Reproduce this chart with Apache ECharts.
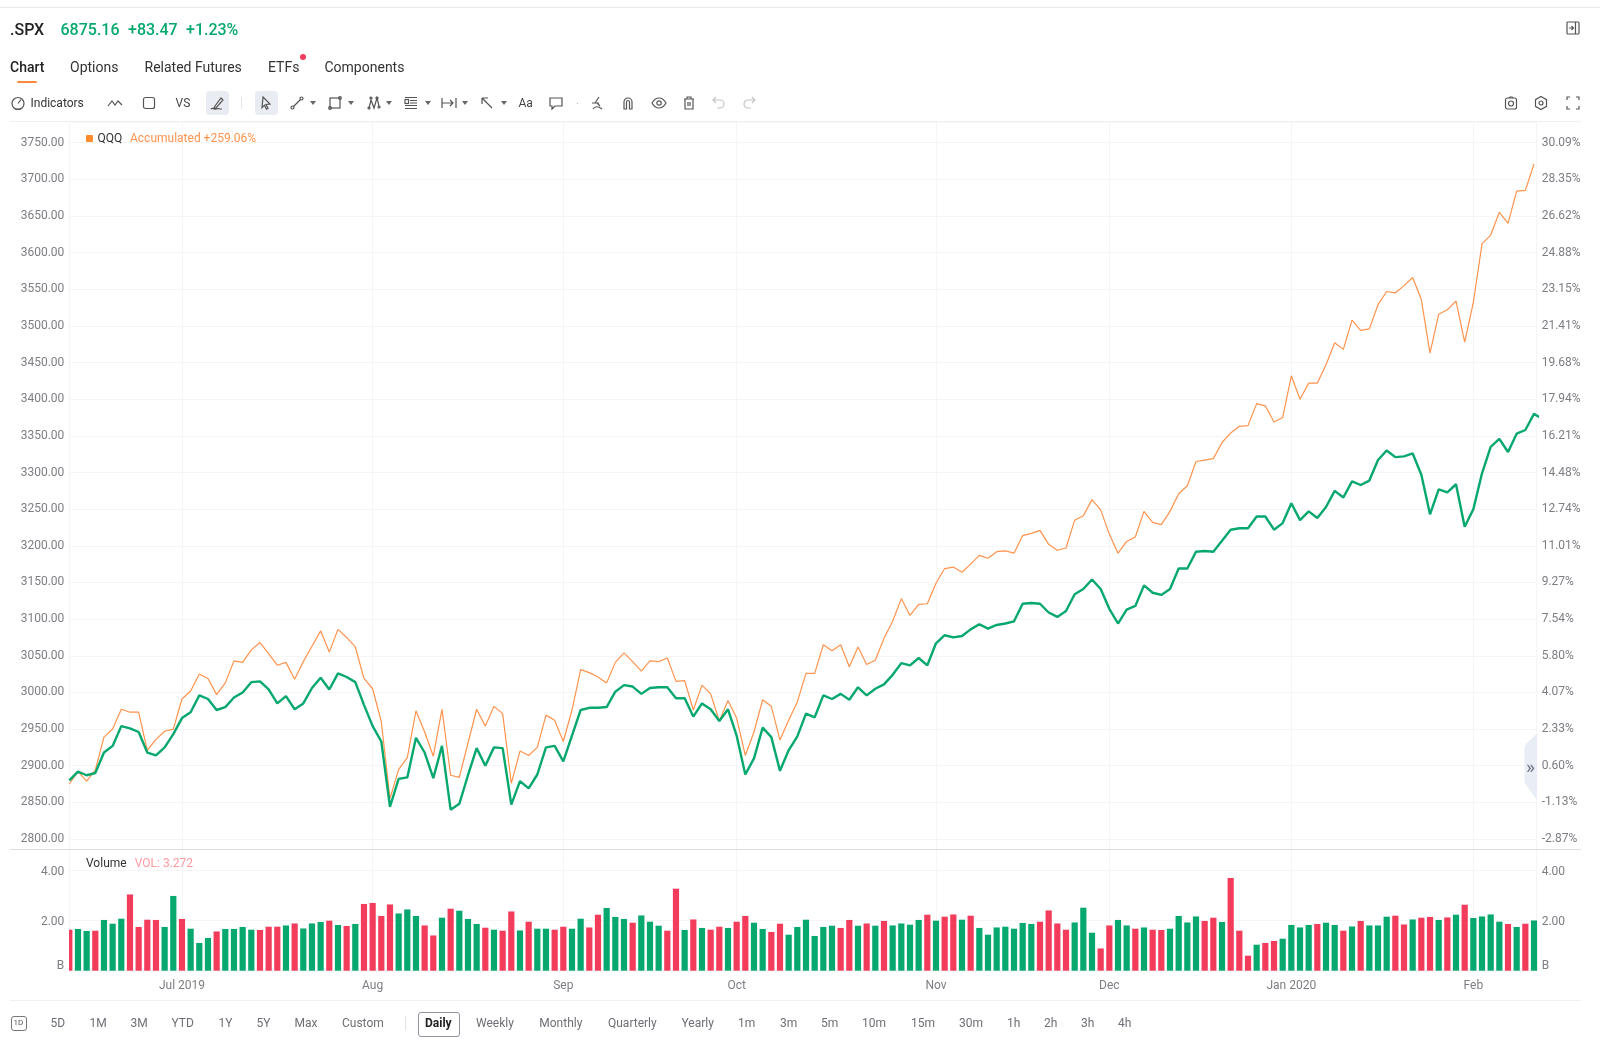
<!DOCTYPE html>
<html>
<head>
<meta charset="utf-8">
<title>.SPX</title>
<script src="https://cdn.jsdelivr.net/npm/echarts@6/dist/echarts.min.js"></script>
<style>
html, body { margin: 0; padding: 0; background: #fff; }
body { width: 1600px; height: 1042px; position: relative; overflow: hidden; font-family: Roboto, sans-serif; color: #333; }
#chart { position: absolute; left: 0; top: 0; width: 1600px; height: 1042px; }
.t { position: absolute; white-space: nowrap; transform: translateY(-50%); line-height: 1; }
.ln { position: absolute; height: 1px; }
.box { position: absolute; border-radius: 4px; }
.ic { position: absolute; width: 16px; height: 16px; transform: translate(-50%, -50%); }
.ic path, .ic rect, .ic circle { fill: none; stroke: #555; stroke-width: 1.2; }
.ic.off path { stroke: #c4c4c8; }
.dd { position: absolute; width: 0; height: 0; border-left: 3px solid transparent; border-right: 3px solid transparent; border-top: 4px solid #666; transform: translate(-50%, -50%); }
</style>
</head>
<body>
<div id="chart"></div>
<div id="ui"></div>
<script>
var spxLine = [
    2880, 2892, 2887, 2890, 2918, 2927, 2954, 2951, 2946, 2918,
    2914, 2925, 2943, 2965, 2973, 2996, 2991, 2976, 2980, 2993,
    3000, 3014, 3015, 3004, 2985, 2995, 2977, 2985, 3006, 3020,
    3004, 3026, 3021, 3014, 2983, 2954, 2933, 2844, 2882, 2884,
    2938, 2918, 2883, 2927, 2840, 2848, 2887, 2924, 2900, 2925,
    2924, 2847, 2879, 2869, 2888, 2925, 2927, 2906, 2941, 2976,
    2979, 2979, 2980, 3001, 3010, 3008, 2998, 3006, 3007, 3007,
    2992, 2992, 2967, 2985, 2977, 2961, 2977, 2941, 2888, 2910,
    2952, 2939, 2893, 2921, 2940, 2971, 2966, 2996, 2991, 2998,
    2990, 3007, 2996, 3005, 3011, 3024, 3040, 3037, 3047, 3037,
    3067, 3078, 3075, 3077, 3086, 3093, 3087, 3092, 3094, 3097,
    3121, 3122, 3121, 3109, 3103, 3111, 3134, 3141, 3154, 3141,
    3114, 3094, 3113, 3118, 3146, 3136, 3133, 3141, 3169, 3169,
    3192, 3193, 3192, 3207, 3222, 3224, 3224, 3240, 3240, 3222,
    3231, 3258, 3235, 3247, 3238, 3253, 3275, 3266, 3288, 3283,
    3289, 3317, 3330, 3321, 3322, 3326, 3297, 3243, 3277, 3273,
    3284, 3226, 3250, 3299, 3335, 3346, 3328, 3353, 3358, 3380, 3373
];
// QQQ 叠加线，读的是左轴刻度
var qqqLine = [
    2875, 2892, 2879, 2894, 2939, 2950, 2977, 2973, 2973, 2921,
    2936, 2947, 2950, 2991, 3002, 3025, 3019, 2997, 3013, 3043,
    3041, 3058, 3068, 3053, 3037, 3041, 3018, 3042, 3063, 3084,
    3055, 3086, 3075, 3062, 3019, 3005, 2960, 2855, 2895, 2911,
    2975, 2946, 2913, 2977, 2887, 2884, 2931, 2977, 2954, 2981,
    2971, 2876, 2920, 2914, 2925, 2969, 2962, 2933, 2976, 3031,
    3027, 3021, 3013, 3041, 3054, 3042, 3029, 3043, 3042, 3047,
    3015, 3016, 2976, 3010, 2998, 2961, 2989, 2965, 2914, 2946,
    2990, 2981, 2935, 2962, 2987, 3026, 3026, 3065, 3057, 3065,
    3035, 3062, 3038, 3044, 3074, 3097, 3128, 3105, 3120, 3121,
    3149, 3169, 3171, 3164, 3175, 3187, 3183, 3192, 3193, 3190,
    3214, 3217, 3221, 3202, 3194, 3197, 3235, 3241, 3263, 3249,
    3216, 3190, 3206, 3212, 3247, 3232, 3229, 3247, 3271, 3282,
    3315, 3317, 3319, 3341, 3354, 3363, 3364, 3394, 3391, 3369,
    3375, 3432, 3400, 3422, 3422, 3447, 3477, 3468, 3508, 3494,
    3496, 3529, 3547, 3545, 3555, 3566, 3536, 3463, 3516, 3522,
    3534, 3478, 3532, 3612, 3624, 3655, 3640, 3684, 3685, 3721
];
var volumes = [
    1.64, 1.67, 1.59, 1.60, 2.03, 1.88, 2.08, 3.05, 1.75, 2.04,
    2.03, 1.75, 2.99, 2.07, 1.68, 1.11, 1.31, 1.57, 1.67, 1.67,
    1.75, 1.64, 1.63, 1.76, 1.76, 1.81, 1.89, 1.69, 1.89, 1.95,
    2.00, 1.83, 1.79, 1.87, 2.67, 2.71, 2.19, 2.65, 2.29, 2.45,
    2.19, 1.81, 1.41, 2.12, 2.48, 2.40, 2.07, 1.87, 1.72, 1.64,
    1.60, 2.37, 1.61, 1.96, 1.68, 1.68, 1.64, 1.76, 1.68, 2.08,
    1.73, 2.24, 2.51, 2.15, 2.07, 1.92, 2.21, 1.96, 1.80, 1.60,
    3.28, 1.63, 2.05, 1.71, 1.64, 1.76, 1.71, 1.96, 2.19, 1.92,
    1.67, 1.55, 1.88, 1.44, 1.75, 2.04, 1.39, 1.75, 1.80, 1.71,
    2.03, 1.80, 1.89, 1.80, 1.99, 1.81, 1.89, 1.84, 2.03, 2.24,
    2.00, 2.16, 2.25, 2.04, 2.20, 1.71, 1.44, 1.73, 1.76, 1.68,
    1.91, 1.87, 1.96, 2.41, 1.89, 1.64, 1.93, 2.52, 1.52, 0.89,
    1.81, 2.03, 1.81, 1.68, 1.73, 1.64, 1.63, 1.68, 2.19, 1.93,
    2.17, 1.99, 2.12, 1.95, 3.71, 1.60, 0.60, 1.04, 1.11, 1.19,
    1.28, 1.83, 1.73, 1.83, 1.87, 1.92, 1.83, 1.60, 1.77, 1.99,
    1.81, 1.81, 2.16, 2.20, 1.85, 2.05, 2.12, 2.15, 2.03, 2.13,
    2.24, 2.64, 2.11, 2.17, 2.25, 1.96, 1.87, 1.75, 1.88, 2.01
];
// 红色柱子的下标，其余为绿色
var redBars = [
    0, 3, 7, 8, 9, 10, 13, 17, 22, 23, 24, 26, 30, 32, 34, 35, 36, 37, 41, 42,
    44, 48, 50, 51, 53, 56, 57, 60, 61, 65, 69, 70, 72, 74, 75, 77, 78, 81, 82,
    89, 90, 92, 94, 99, 101, 102, 104, 112, 113, 114, 115, 119, 120, 123, 125,
    126, 131, 132, 134, 135, 136, 138, 139, 144, 147, 149, 153, 154, 156, 157,
    159, 161, 166, 168
];
var monthIndex = [13, 35, 57, 77, 100, 120, 141, 162];
var monthLabels = ['Jul 2019', 'Aug', 'Sep', 'Oct', 'Nov', 'Dec', 'Jan 2020', 'Feb'];
var rightTicks = [
    '-2.87%', '-1.13%', '0.60%', '2.33%', '4.07%', '5.80%', '7.54%', '9.27%', '11.01%', '12.74%',
    '14.48%', '16.21%', '17.94%', '19.68%', '21.41%', '23.15%', '24.88%', '26.62%', '28.35%', '30.09%'
];

var GREEN = '#06a86e', RED = '#f33b5b', ORANGE = '#ff934d';
var gridLeft = 69.3, gridWidth = 1467.4, xMax = 169.31;
var labelColor = '#7d7d84';
var splitLine = { show: true, lineStyle: { color: '#f5f5f6', width: 1 } };

function pairs(arr) {
    return arr.map(function (v, i) { return [i, v]; });
}
function hiddenX(grid) {
    return {
        type: 'value', gridIndex: grid, min: 0, max: xMax, show: false,
        splitLine: { show: false }
    };
}
function volLabel(v) {
    if (v === 0) return '{b|B}';
    return v.toFixed(2);
}
var volRich = { b: { color: labelColor, fontSize: 12, fontFamily: 'Roboto', padding: [0, 0, 12, 0] } };

var chart = echarts.init(document.getElementById('chart'));
chart.setOption({
    animation: false,
    grid: [
        { left: gridLeft, top: 142.7, width: gridWidth, height: 696.3 },
        { left: gridLeft, top: 870.7, width: gridWidth, height: 100 },
        { left: gridLeft, top: 122, width: gridWidth, height: 849, show: true, borderColor: '#f3f3f4', borderWidth: 1 }
    ],
    xAxis: [
        hiddenX(0),
        hiddenX(1),
        {
            type: 'value', gridIndex: 2, min: 0, max: xMax,
            axisLine: { show: false },
            axisTick: { show: false, customValues: monthIndex },
            splitLine: splitLine,
            axisLabel: {
                customValues: monthIndex,
                margin: 9,
                color: labelColor, fontSize: 12, fontFamily: 'Roboto',
                formatter: function (v) { return monthLabels[monthIndex.indexOf(v)]; }
            }
        }
    ],
    yAxis: [
        {
            type: 'value', gridIndex: 0, min: 2800, max: 3750, interval: 50, position: 'left',
            axisLine: { show: false }, axisTick: { show: false }, splitLine: splitLine,
            axisLabel: {
                margin: 5, padding: [2, 0, 0, 0], color: labelColor, fontSize: 12, fontFamily: 'Roboto',
                formatter: function (v) { return v.toFixed(2); }
            }
        },
        {
            type: 'value', gridIndex: 0, min: 2800, max: 3750, interval: 50, position: 'right',
            axisLine: { show: false }, axisTick: { show: false }, splitLine: { show: false },
            axisLabel: {
                margin: 5, padding: [2, 0, 0, 0], color: labelColor, fontSize: 12, fontFamily: 'Roboto',
                formatter: function (v) { return rightTicks[Math.round((v - 2800) / 50)]; }
            }
        },
        {
            type: 'value', gridIndex: 1, min: 0, max: 4, interval: 2, position: 'left',
            axisLine: { show: false }, axisTick: { show: false }, splitLine: splitLine,
            axisLabel: { margin: 5, padding: [2, 0, 0, 0], color: labelColor, fontSize: 12, fontFamily: 'Roboto', formatter: volLabel, rich: volRich }
        },
        {
            type: 'value', gridIndex: 1, min: 0, max: 4, interval: 2, position: 'right',
            axisLine: { show: false }, axisTick: { show: false }, splitLine: { show: false },
            axisLabel: { margin: 5, padding: [2, 0, 0, 0], color: labelColor, fontSize: 12, fontFamily: 'Roboto', formatter: volLabel, rich: volRich }
        },
        { type: 'value', gridIndex: 2, min: 0, max: 1, show: false, splitLine: { show: false } }
    ],
    series: [
        {
            name: 'QQQ', type: 'line', xAxisIndex: 0, yAxisIndex: 0, showSymbol: false,
            lineStyle: { color: ORANGE, width: 1.2 }, data: pairs(qqqLine), z: 3
        },
        {
            name: '.SPX', type: 'line', xAxisIndex: 0, yAxisIndex: 0, showSymbol: false,
            lineStyle: { color: GREEN, width: 2.4 }, data: pairs(spxLine), z: 4
        },
        {
            name: 'Volume', type: 'bar', xAxisIndex: 1, yAxisIndex: 2, barWidth: 6.2,
            data: volumes.map(function (v, i) {
                var isRed = redBars.indexOf(i) >= 0;
                return { value: [i, v], itemStyle: { color: isRed ? RED : GREEN } };
            })
        },
        { type: 'line', xAxisIndex: 2, yAxisIndex: 4, data: [], silent: true }
    ]
});

// 页面上方和下方的按钮
var ui = document.getElementById('ui');
function addText(str, x, y, size, color, weight) {
    var el = document.createElement('span');
    el.className = 't';
    el.textContent = str;
    el.style.cssText = 'left:' + x + 'px;top:' + y + 'px;font-size:' + size + 'px;color:' + color + ';font-weight:' + (weight || 400);
    ui.appendChild(el);
}
function addLine(x, y, w, color) {
    var el = document.createElement('div');
    el.className = 'ln';
    el.style.cssText = 'left:' + x + 'px;top:' + y + 'px;width:' + w + 'px;background:' + color;
    ui.appendChild(el);
}
function addBox(x, y, w, h, css) {
    var el = document.createElement('div');
    el.className = 'box';
    el.style.cssText = 'left:' + x + 'px;top:' + y + 'px;width:' + w + 'px;height:' + h + 'px;' + css;
    ui.appendChild(el);
}
function addIcon(body, x, y, off) {
    var el = document.createElementNS('http://www.w3.org/2000/svg', 'svg');
    el.setAttribute('class', off ? 'ic off' : 'ic');
    el.setAttribute('viewBox', '0 0 16 16');
    el.style.left = x + 'px';
    el.style.top = y + 'px';
    el.innerHTML = body;
    ui.appendChild(el);
}
function addDrop(x) {
    var el = document.createElement('div');
    el.className = 'dd';
    el.style.left = x + 'px';
    el.style.top = '103px';
    ui.appendChild(el);
}

addLine(0, 7, 1600, '#e9e9ea');
addLine(10, 121, 1571, '#f0f0f1');
addLine(10, 849, 1571, '#dedee0');
addLine(10, 1000, 1571, '#f0f0f1');

// 第一根柱子在图表左边缘被切掉一半
addBox(65, 925, 4.3, 47, 'background:#fff;border-radius:0');

addText('.SPX', 10, 30, 16, '#222', 500);
addText('6875.16', 60.5, 30, 16, GREEN, 500);
addText('+83.47', 128, 30, 16, GREEN, 500);
addText('+1.23%', 186, 30, 16, GREEN, 500);

addText('Chart', 10, 67.3, 14, '#222', 500);
addText('Options', 70, 67.3, 14, '#333');
addText('Related Futures', 144.5, 67.3, 14, '#333');
addText('ETFs', 268, 67.3, 14, '#333');
addText('Components', 324.5, 67.3, 14, '#333');
addBox(17, 80.5, 20, 2, 'background:#ff8a3d;border-radius:1px');
addBox(299.5, 53.5, 6, 6, 'background:' + RED + ';border-radius:50%');

addBox(205.5, 91, 23.5, 23.5, 'background:#e9ecf3');
addBox(254.5, 91, 23.5, 23.5, 'background:#e9ecf3');
addBox(241, 97, 1, 12, 'background:#e6e6e8;border-radius:0');

addIcon('<circle cx="8" cy="8.5" r="6"/><path d="M8 8.5l3-4M5 14h6"/>', 18, 103);
addText('Indicators', 30.5, 103, 12, '#333');
addIcon('<path d="M1 11l4-5 3 4 3-4 4 4"/>', 115, 103);
addIcon('<rect x="2.5" y="2.5" width="11" height="11" rx="2"/>', 148.5, 103);
addText('VS', 175.5, 103, 12, '#444');
addIcon('<path d="M6 11l6-8 2 2-7 8-2 0zM2 14c2-2 3 1 5 0s3 0 6 0"/>', 217, 103);
addIcon('<path d="M5 2l7 7-4 .5 2 4-1.5.7-2-4-2.5 2.5z"/>', 266, 103);
addIcon('<circle cx="3.5" cy="12.5" r="1.5"/><circle cx="12.5" cy="3.5" r="1.5"/><path d="M4.5 11.5l7-7"/>', 296.5, 103);
addIcon('<rect x="3" y="3" width="10" height="10"/><circle cx="3" cy="13" r="1.3"/><circle cx="13" cy="3" r="1.3"/>', 334.5, 103);
addIcon('<path d="M3 13l2-8 3 8 3-10 2 8"/><circle cx="3" cy="13" r="1"/><circle cx="5" cy="3" r="1"/><circle cx="11" cy="3" r="1"/><circle cx="13" cy="12" r="1"/>', 373.5, 103);
addIcon('<path d="M2 2.5h12M7 5.5h7M7 8h7M2 10.5h12M2 13.5h12"/><rect x="2" y="4.5" width="3.5" height="4"/>', 411, 103);
addIcon('<path d="M1 8h11M1 3v10M15 3v10M9 5l3 3-3 3"/>', 449, 103);
addIcon('<path d="M3 3l10 10M3 3h6M3 3v6"/>', 487, 103);
addText('Aa', 518.5, 103, 12, '#444');
addIcon('<path d="M2 3h12v8H7l-3 3v-3H2z"/>', 556, 103);
addBox(576.5, 102.5, 1.5, 1.5, 'background:#999;border-radius:50%');
addIcon('<path d="M10 2L6 8M3 8h7M4 14c2-3 5-3 9 0M8 8l3 3"/>', 597, 103);
addIcon('<path d="M4 14V7a4 4 0 0 1 8 0v7h-2.5V7a1.5 1.5 0 0 0-3 0v7z"/>', 628, 103);
addIcon('<path d="M1 8c2-3.500 4.500-5 7-5s5 1.500 7 5c-2 3.500-4.500 5-7 5s-5-1.500-7-5z"/><circle cx="8" cy="8" r="2.2"/>', 658.5, 103);
addIcon('<path d="M3 4h10M6 4V2h4v2M4 4v10h8V4M7 7v4M9 7v4"/>', 689, 103);
addIcon('<path d="M5 2L2 5l3 3M2 5h7a4 4 0 0 1 0 8H6"/>', 719, 103, true);
addIcon('<path d="M11 2l3 3-3 3M14 5H7a4 4 0 0 0 0 8h3"/>', 749, 103, true);
[312.7, 350.5, 388.8, 427.5, 465, 504].forEach(addDrop);

addIcon('<rect x="2" y="2" width="12" height="12" rx="1"/><path d="M10.5 2v12M4 8h4.500M6.500 6l2 2-2 2"/>', 1573, 28);
addIcon('<rect x="2.5" y="3" width="11" height="11" rx="2"/><circle cx="8" cy="8.5" r="2.5"/><path d="M6 3l1-1h2l1 1"/>', 1510.5, 103);
addIcon('<path d="M8 1.5l5.5 3.2v6.6L8 14.5l-5.5-3.200V4.700z"/><circle cx="8" cy="8" r="2"/>', 1541, 103);
addIcon('<path d="M2 5V2h3M11 2h3v3M14 11v3h-3M5 14H2v-3"/>', 1573, 103);

// 图例
addBox(85.5, 134.5, 7, 7, 'background:#ff8a2a;border-radius:1px');
addText('QQQ', 97.5, 138, 12, '#333');
addText('Accumulated +259.06%', 130, 138, 12, ORANGE);
addText('Volume', 86, 862.5, 12, '#333');
addText('VOL: 3.272', 134.8, 862.5, 12, '#ff9a9f');

// 右侧收起按钮
var tab = document.createElementNS('http://www.w3.org/2000/svg', 'svg');
tab.setAttribute('style', 'position:absolute;left:1524px;top:732px;width:13px;height:70px');
tab.innerHTML = '<path d="M13 1L2 12Q.5 14 .5 16V48Q.5 51 2 53L13 68z" fill="#e9edf5"/>';
ui.appendChild(tab);
addText('»', 1526, 766, 19, '#6d7484');

// 底部周期按钮
var rangeLabels = ['5D', '1M', '3M', 'YTD', '1Y', '5Y', 'Max', 'Custom'];
var rangeX = [50.5, 89.5, 130.5, 171.5, 218.5, 256.5, 294.5, 342];
rangeLabels.forEach(function (s, i) { addText(s, rangeX[i], 1023, 12, '#6e6e75'); });
addBox(11, 1016, 14, 13, 'border:1.2px solid #777;border-radius:3px');
addText('1D', 13.5, 1023, 8, '#555');
addBox(405, 1016, 1, 14, 'background:#e4e4e6;border-radius:0');
addBox(418, 1011.5, 40, 23, 'border:1px solid #8d93a0;border-radius:3px');
addText('Daily', 425, 1023, 12, '#222', 700);
var periodLabels = ['Weekly', 'Monthly', 'Quarterly', 'Yearly', '1m', '3m', '5m', '10m', '15m', '30m', '1h', '2h', '3h', '4h'];
var periodX = [476, 539.3, 608, 681.5, 738, 780, 821, 862, 911, 959, 1007, 1044, 1081, 1118];
periodLabels.forEach(function (s, i) { addText(s, periodX[i], 1023, 12, '#6e6e75'); });
</script>
</body>
</html>
